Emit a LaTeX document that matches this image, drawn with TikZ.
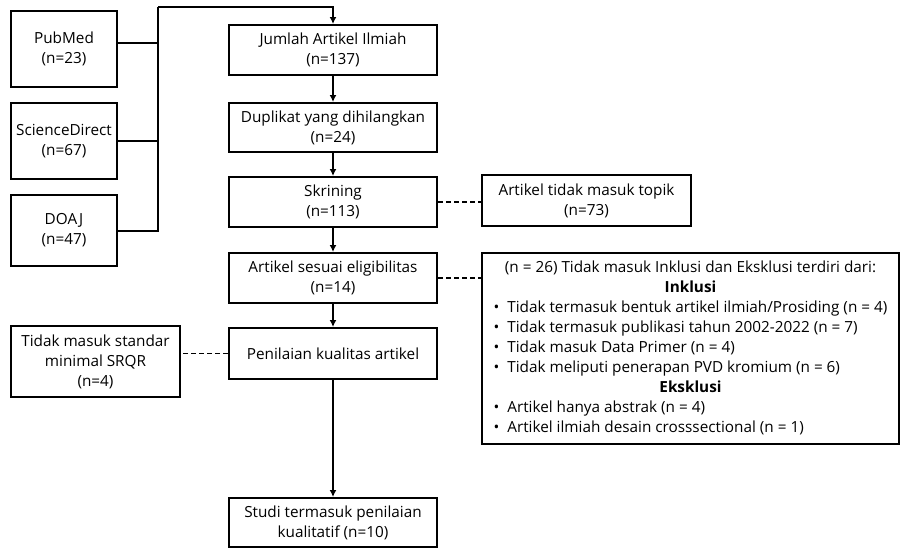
\documentclass[tikz,border=0pt]{standalone}
\usepackage{fontspec}
\setmainfont{Open Sans}
\usetikzlibrary{arrows.meta, positioning, calc}

\tikzset{
  box/.style={draw, line width=2pt, align=center, inner sep=2pt,
    font=\fontsize{15.3}{20}\selectfont},
  flow/.style={line width=2pt, -{Latex[length=7pt,width=7pt]}},
  link/.style={line width=2pt},
  skip/.style={line width=1.8pt, dash pattern=on 5pt off 3pt}
}

\begin{document}
\begin{tikzpicture}[x=1pt,y=-1pt]
  \useasboundingbox (0,0) rectangle (902,549);
  % sumber data
  \node[box, minimum width=106pt, minimum height=76pt] (pub) at (64,49) {PubMed\\(n=23)};
  \node[box, minimum width=106pt, minimum height=76pt] (sci) at (64,141) {ScienceDirect\\(n=67)};
  \node[box, minimum width=106pt, minimum height=71pt] (doaj) at (64,230.5) {DOAJ\\(n=47)};
  % alur utama
  \node[box, minimum width=208pt, minimum height=50pt] (jumlah) at (333,50) {Jumlah Artikel Ilmiah\\(n=137)};
  \node[box, minimum width=208pt, minimum height=49pt] (dup) at (333,127.5) {Duplikat yang dihilangkan\\(n=24)};
  \node[box, minimum width=208pt, minimum height=50pt] (skrin) at (333,202) {Skrining\\(n=113)};
  \node[box, minimum width=208pt, minimum height=50pt] (elig) at (333,278) {Artikel sesuai eligibilitas\\(n=14)};
  \node[box, minimum width=208pt, minimum height=51pt] (nilai) at (333,353.5) {Penilaian kualitas artikel};
  \node[box, minimum width=208pt, minimum height=49pt] (studi) at (333,522.5) {Studi termasuk penilaian\\kualitatif (n=10)};
  % dikeluarkan
  \node[box, minimum width=209pt, minimum height=51pt] (topik) at (586.5,200.5) {Artikel tidak masuk topik\\(n=73)};
  \node[box, minimum width=169pt, minimum height=71pt] (srqr) at (95.5,361.5) {Tidak masuk standar\\minimal SRQR\\(n=4)};
  \node[box, minimum width=417pt, minimum height=191pt] (kriteria) at (690.5,348.5) {%
    \begin{tabular}{@{}l@{}}
    \multicolumn{1}{c}{(n = 26) Tidak masuk Inklusi dan Eksklusi terdiri dari:}\\
    \multicolumn{1}{c}{\textbf{Inklusi}}\\
    • \ Tidak termasuk bentuk artikel ilmiah/Prosiding (n = 4)\\
    • \ Tidak termasuk publikasi tahun 2002-2022 (n = 7)\\
    • \ Tidak masuk Data Primer (n = 4)\\
    • \ Tidak meliputi penerapan PVD kromium (n = 6)\\
    \multicolumn{1}{c}{\textbf{Eksklusi}}\\
    • \ Artikel hanya abstrak (n = 4)\\
    • \ Artikel ilmiah desain crosssectional (n = 1)
    \end{tabular}};

  \coordinate (bustop) at (158,7);
  \coordinate (busbot) at (158,230.5);
  \draw[link] (doaj.east) -- (busbot) -- (bustop);
  \draw[link] ([yshift=6pt]pub.east) -- ([yshift=6pt]pub.east -| bustop);
  \draw[link] (sci.east) -- (sci.east -| bustop);
  \draw[flow] (bustop) -| (jumlah.north);

  \draw[flow] (jumlah) -- (dup);
  \draw[flow] (dup) -- (skrin);
  \draw[flow] (skrin) -- (elig);
  \draw[flow] (elig) -- (nilai);
  \draw[flow] (nilai) -- (studi);

  \draw[skip] (skrin.east) -- (skrin.east -| topik.west);
  \draw[skip] (elig.east) -- (elig.east -| kriteria.west);
  \draw[skip] (nilai.west) -- (nilai.west -| srqr.east);
\end{tikzpicture}
\end{document}
